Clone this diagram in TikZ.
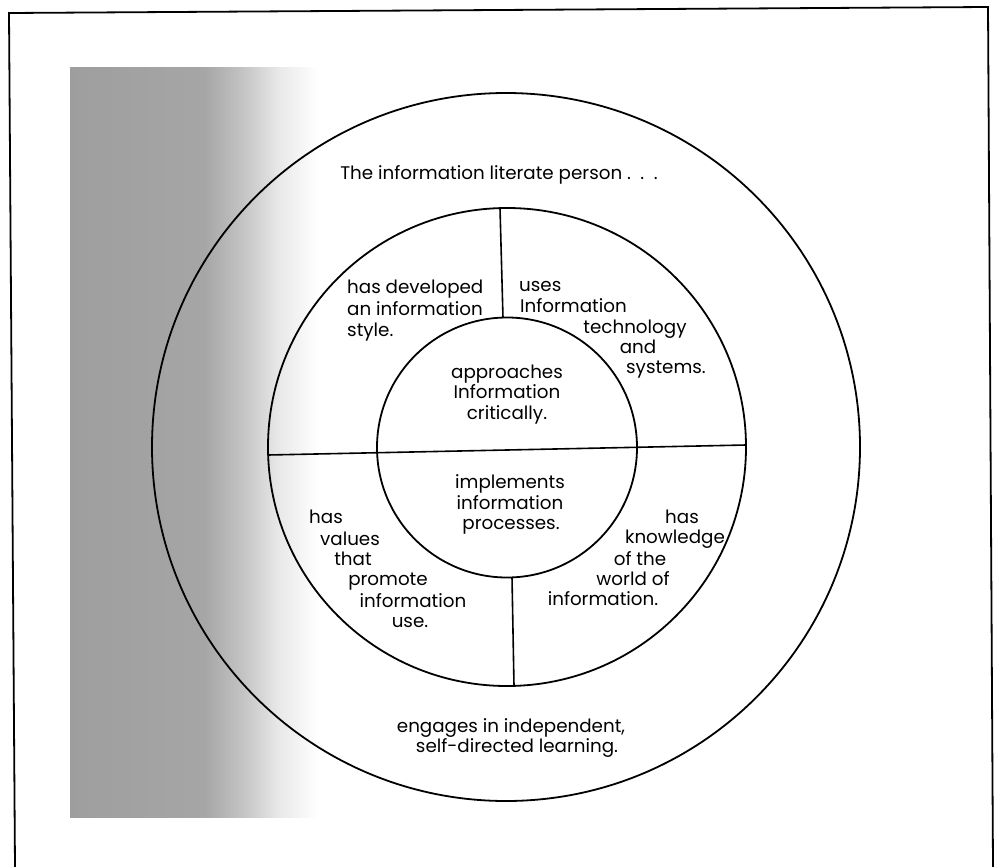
\documentclass[tikz,border=0pt]{standalone}
\usepackage{fontspec}
\setmainfont{Poppins}
% TikZ maps the path's extent onto 25bp..75bp of the declared shading
\pgfdeclarehorizontalshading{leftfade}{100bp}{color(0bp)=(black!38); color(25bp)=(black!38); color(52bp)=(black!35); color(60bp)=(black!23); color(67bp)=(black!9); color(75bp)=(white); color(100bp)=(white)}
\begin{document}
\begin{tikzpicture}[x=1pt,y=-1pt,
  ring/.style={line width=1.8pt, black},
  divider/.style={line width=1.6pt, black},
  frameline/.style={line width=1.8pt, black},
  lbl/.style={inner sep=0pt, anchor=base, font=\fontsize{18.3}{21}\selectfont}]
\useasboundingbox (0,0) rectangle (996,867);
\fill[white] (0,0) rectangle (996,867);
% shaded band at the left
\shade[shading=leftfade] (70,68) rectangle (318,817);
% frame (open at the bottom)
\draw[frameline] (15,867) -- (9,13) -- (988,7) -- (993,867);
% circles
\coordinate (c) at (507,447);
\draw[ring] (506,447) circle (354);
\draw[ring] (c) circle (239);
\draw[ring] (507,447.5) circle (130);
% dividers
\coordinate (hl) at (268,455);
\coordinate (hr) at (746,445);
\coordinate (vt1) at (500,208);
\coordinate (vt2) at (503,318);
\coordinate (vb1) at (512,577);
\coordinate (vb2) at (514,686);
\draw[divider] (hl) -- (hr);
\draw[divider] (vt1) -- (vt2);
\draw[divider] (vb1) -- (vb2);
% title
\node[lbl] (title) at (499,179) {The information literate person .\hspace{3pt} .\hspace{3pt} .};
% top-left sector
\node[lbl, anchor=base west] (tl1) at (347,293) {has developed};
\node[lbl, anchor=base west] (tl2) at (347,315) {an information};
\node[lbl, anchor=base west] (tl3) at (347,336) {style.};
% top-right sector
\node[lbl, anchor=base west] (tr1) at (519,291) {uses};
\node[lbl, anchor=base west] (tr2) at (520,312) {Information};
\node[lbl] (tr3) at (635,333) {technology};
\node[lbl] (tr4) at (638,353) {and};
\node[lbl] (tr5) at (666,373) {systems.};
% inner top
\node[lbl] (it1) at (507,378) {approaches};
\node[lbl] (it2) at (507,398) {Information};
\node[lbl] (it3) at (507,419) {critically.};
% inner bottom
\node[lbl] (ib1) at (510,488) {implements};
\node[lbl] (ib2) at (510,509) {information};
\node[lbl] (ib3) at (511,529) {processes.};
% bottom-left sector
\node[lbl] (bl1) at (326,523) {has};
\node[lbl] (bl2) at (350,545) {values};
\node[lbl] (bl3) at (353,565) {that};
\node[lbl] (bl4) at (388,585) {promote};
\node[lbl] (bl5) at (413,607) {information};
\node[lbl] (bl6) at (410,627) {use.};
% bottom-right sector
\node[lbl] (br1) at (682,523) {has};
\node[lbl] (br2) at (675,543) {knowledge};
\node[lbl] (br3) at (640,565) {of the};
\node[lbl] (br4) at (633,585) {world of};
\node[lbl] (br5) at (603,605) {information.};
% bottom text
\node[lbl] (bt1) at (511,732) {engages in independent,};
\node[lbl] (bt2) at (517,752) {self-directed learning.};
\end{tikzpicture}
\end{document}
